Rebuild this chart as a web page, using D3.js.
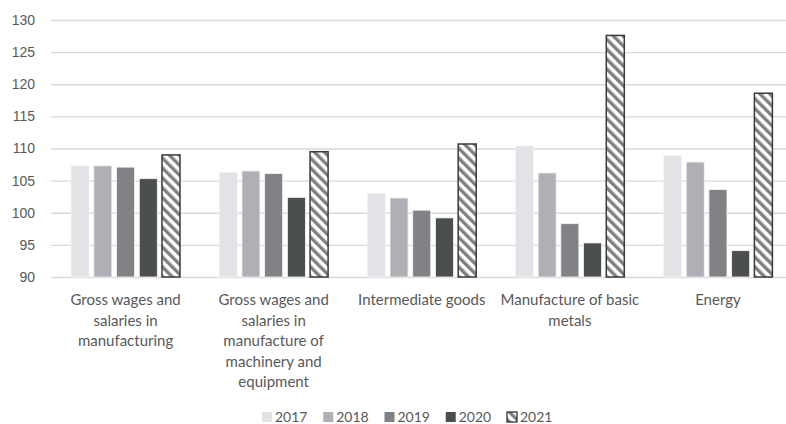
<!DOCTYPE html>
<html>
<head>
<meta charset="utf-8">
<script src="https://cdn.jsdelivr.net/npm/d3@7"></script>
<style>
  html, body { margin: 0; padding: 0; background: #fff; }
  svg { display: block; font-family: Lato, "Open Sans", sans-serif; }
</style>
</head>
<body>
<svg id="chart" width="786" height="424"></svg>
<script>
// ---- data ----
const categories = [
  "Gross wages and salaries in manufacturing",
  "Gross wages and salaries in manufacture of machinery and equipment",
  "Intermediate goods",
  "Manufacture of basic metals",
  "Energy"
];
const categoryLines = [
  ["Gross wages and", "salaries in", "manufacturing"],
  ["Gross wages and", "salaries in", "manufacture of", "machinery and", "equipment"],
  ["Intermediate goods"],
  ["Manufacture of basic", "metals"],
  ["Energy"]
];
const years = ["2017", "2018", "2019", "2020", "2021"];
const values2017 = [107.3, 106.3, 103.0, 110.4, 108.9];
const values2018 = [107.3, 106.5, 102.3, 106.2, 107.9];
const values2019 = [107.1, 106.1, 100.4, 98.3, 103.6];
const values2020 = [105.3, 102.4, 99.2, 95.3, 94.1];
const values2021 = [109.0, 109.5, 110.7, 127.6, 118.6];
const yTicks = [90, 95, 100, 105, 110, 115, 120, 125, 130];

const seriesValues = [values2017, values2018, values2019, values2020, values2021];
const colors = ["#e2e3e7", "#aeb0b5", "#808285", "#4b504f", "url(#hatch)"];

// ---- layout ----
const svg = d3.select("#chart");
const x0 = d3.scaleBand().domain(categories).range([51.5, 792]).padding(0);
const x1 = d3.scaleBand().domain(years).range([19.6, x0.bandwidth() - 19.6]).paddingInner(0.207).paddingOuter(0);
const y = d3.scaleLinear().domain([90, 130]).range([277, 20]);

// hatch pattern
const defs = svg.append("defs");
const pat = defs.append("pattern")
  .attr("id", "hatch")
  .attr("patternUnits", "userSpaceOnUse")
  .attr("width", 7).attr("height", 7)
  .attr("patternTransform", "rotate(-45)");
pat.append("rect").attr("width", 7).attr("height", 7).attr("fill", "#ffffff");
pat.append("rect").attr("width", 3.4).attr("height", 7).attr("fill", "#7f8083");

// gridlines
const yAxis = d3.axisLeft(y).tickValues(yTicks).tickSize(-(786 - 51)).tickPadding(16);
const gy = svg.append("g").attr("transform", "translate(51,0)").call(yAxis);
gy.select(".domain").remove();
gy.selectAll(".tick line").attr("stroke", "#d9d9d9").attr("stroke-width", 1.3);
gy.selectAll(".tick text")
  .attr("fill", "#595959")
  .attr("font-size", "14px")
  .attr("x", -16);

// bars
const rows = categories.map((c, i) => ({ cat: c, vals: years.map((yr, j) => ({ year: yr, v: seriesValues[j][i], j })) }));
const groups = svg.append("g").selectAll("g").data(rows).join("g")
  .attr("transform", d => `translate(${x0(d.cat)},0)`);
groups.selectAll("rect").data(d => d.vals).join("rect")
  .attr("x", d => x1(d.year))
  .attr("width", x1.bandwidth())
  .attr("y", d => y(d.v))
  .attr("height", d => y(90) - y(d.v))
  .attr("fill", d => colors[d.j])
  .attr("stroke", d => d.j === 4 ? "#3b3b3b" : "#f4f4f4")
  .attr("stroke-width", d => d.j === 4 ? 1.5 : 0.8);

// category labels
const labels = svg.append("g").selectAll("text").data(categories).join("text")
  .attr("text-anchor", "middle")
  .attr("fill", "#595959")
  .attr("font-size", "15px")
  .attr("transform", d => `translate(${x0(d) + x0.bandwidth() / 2},305)`);
labels.selectAll("tspan").data((d, i) => categoryLines[i]).join("tspan")
  .attr("x", 0)
  .attr("dy", (d, i) => i === 0 ? 0 : 20.5)
  .text(d => d);

// legend
const legendX = d3.scalePoint().domain(years).range([262, 507]);
const lg = svg.append("g").selectAll("g").data(years).join("g")
  .attr("transform", d => `translate(${legendX(d)},412)`);
lg.append("rect")
  .attr("width", 10).attr("height", 10)
  .attr("fill", (d, i) => colors[i])
  .attr("stroke", (d, i) => i === 4 ? "#222" : "none")
  .attr("stroke-width", 1.2);
lg.append("text")
  .attr("x", 13).attr("y", 9.5)
  .attr("fill", "#595959")
  .attr("font-size", "14px")
  .text(d => d);
</script>
</body>
</html>
